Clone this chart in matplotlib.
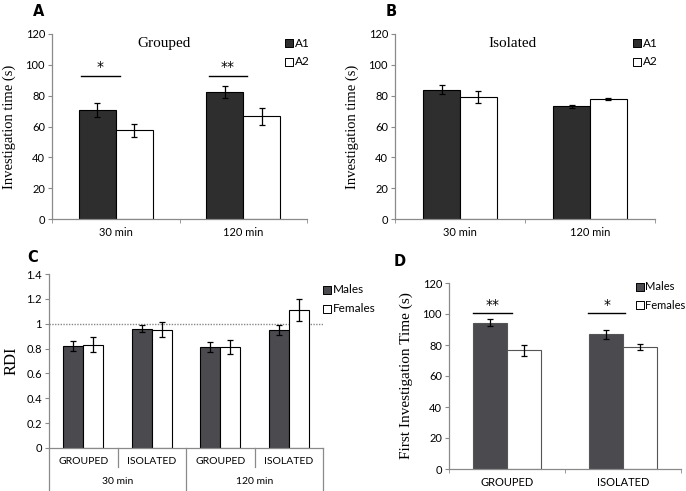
import matplotlib.pyplot as plt
import numpy as np

# panel A - grouped
times = ["30 min", "120 min"]
grp_a1 = [70.5, 82.5]
grp_a1_err = [4.5, 4.0]
grp_a2 = [57.5, 66.5]
grp_a2_err = [4.0, 5.5]

# panel B - isolated
iso_a1 = [84.0, 73.0]
iso_a1_err = [3.0, 1.0]
iso_a2 = [79.0, 78.0]
iso_a2_err = [4.0, 0.7]

# panel C - RDI
rdi_groups = ["GROUPED", "ISOLATED", "GROUPED", "ISOLATED"]
rdi_males = [0.82, 0.96, 0.81, 0.95]
rdi_males_err = [0.04, 0.03, 0.04, 0.04]
rdi_females = [0.83, 0.95, 0.81, 1.11]
rdi_females_err = [0.06, 0.06, 0.055, 0.09]

# panel D - first investigation time
housing = ["GROUPED", "ISOLATED"]
fit_males = [94.5, 87.0]
fit_males_err = [2.0, 3.0]
fit_females = [76.5, 78.5]
fit_females_err = [3.5, 2.0]

W, H = 686, 491
fig = plt.figure(figsize=(W / 100, H / 100), dpi=100)
sans = "Lato"
serif = "Liberation Serif"
dark1 = "#2e2e2e"
dark2 = "#4b4b4f"


def px_axes(left, right, top, bottom):
    return fig.add_axes([left / W, 1 - bottom / H, (right - left) / W, (bottom - top) / H])


def style(ax):
    for s in ["top", "right"]:
        ax.spines[s].set_visible(False)
    for s in ["left", "bottom"]:
        ax.spines[s].set_color("#8a8a8a")
        ax.spines[s].set_linewidth(0.9)
    ax.tick_params(axis="y", length=3, color="#8a8a8a", labelsize=8, pad=2)
    for t in ax.get_yticklabels():
        t.set_family(sans)


def bars(ax, v1, e1, v2, e2, off, w, c1, edge):
    x = np.arange(len(v1))
    ax.bar(x - off, v1, w, color=c1, edgecolor=edge, linewidth=0.8)
    ax.bar(x + off, v2, w, color="white", edgecolor=edge, linewidth=0.8)
    ax.errorbar(x - off, v1, yerr=e1, fmt="none", ecolor="black", elinewidth=0.9, capsize=2.5, capthick=0.9)
    ax.errorbar(x + off, v2, yerr=e2, fmt="none", ecolor="black", elinewidth=0.9, capsize=2.5, capthick=0.9)
    return x


def two_cat_xaxis(ax, labels):
    ax.set_xlim(-0.5, 1.5)
    ax.set_xticks([0, 1])
    ax.set_xticklabels(labels, family=sans, fontsize=8)
    ax.set_xticks([-0.5, 0.5, 1.5], minor=True)
    ax.tick_params(axis="x", which="major", length=0, pad=6)
    ax.tick_params(axis="x", which="minor", length=3, color="#8a8a8a")


def legend(ax, x, y, labels, c1, dy, gap=0.022, fs=8.5):
    for i, (lab, fc) in enumerate(zip(labels, [c1, "white"])):
        yy = y - i * dy
        ax.scatter([x], [yy], marker="s", s=26, facecolor=fc, edgecolor="black",
                   linewidth=0.7, transform=ax.transAxes, clip_on=False)
        ax.text(x + gap, yy, lab, transform=ax.transAxes, family=sans,
                fontsize=fs, va="center", ha="left")


def sig(ax, x0, x1, y, stars, dy):
    ax.plot([x0, x1], [y, y], color="black", lw=1)
    ax.text((x0 + x1) / 2, y + dy, stars, ha="center", va="bottom", fontsize=10,
            family="DejaVu Sans")


# ---- A
axA = px_axes(52, 307, 34, 219)
bars(axA, grp_a1, grp_a1_err, grp_a2, grp_a2_err, 0.145, 0.29, dark1, "black")
two_cat_xaxis(axA, times)
axA.set_ylim(0, 120)
axA.set_yticks(range(0, 121, 20))
style(axA)
axA.set_ylabel("Investigation time (s)", family=serif, fontsize=10.5, labelpad=7)
axA.text(0.44, 0.95, "Grouped", transform=axA.transAxes, family=serif, fontsize=11, ha="center", va="center")
legend(axA, 0.93, 0.95, ["A1", "A2"], dark1, 0.1)
sig(axA, -0.27, 0.03, 92.8, "*", 1.0)
sig(axA, 0.73, 1.03, 92.8, "**", 1.0)
fig.text(39 / W, 1 - 12 / H, "A", family="DejaVu Sans", fontweight="bold", fontsize=10.5, ha="center", va="center")

# ---- B
axB = px_axes(395, 655, 34, 219)
bars(axB, iso_a1, iso_a1_err, iso_a2, iso_a2_err, 0.14, 0.285, dark1, "black")
two_cat_xaxis(axB, times)
axB.set_ylim(0, 120)
axB.set_yticks(range(0, 121, 20))
style(axB)
axB.set_ylabel("Investigation time (s)", family=serif, fontsize=10.5, labelpad=7)
axB.text(0.45, 0.95, "Isolated", transform=axB.transAxes, family=serif, fontsize=11, ha="center", va="center")
legend(axB, 0.93, 0.95, ["A1", "A2"], dark1, 0.1)
fig.text(391 / W, 1 - 12 / H, "B", family="DejaVu Sans", fontweight="bold", fontsize=10.5, ha="center", va="center")

# ---- C
axC = px_axes(49, 323, 274, 448)
bars(axC, rdi_males, rdi_males_err, rdi_females, rdi_females_err, 0.145, 0.29, dark2, "black")
axC.set_xlim(-0.5, 3.5)
axC.set_ylim(0, 1.4)
axC.set_yticks(np.arange(0, 1.41, 0.2))
axC.set_yticklabels(["0", "0.2", "0.4", "0.6", "0.8", "1", "1.2", "1.4"])
axC.set_xticks([])
style(axC)
axC.axhline(1.0, color="#888888", lw=1, ls=(0, (1, 1)), zorder=0)
axC.set_ylabel("RDI", family=serif, fontsize=12, labelpad=5)
# multi-level category axis
tr = axC.get_xaxis_transform()
px = 1 / 174  # one pixel in axes-y units
for xb, depth in [(-0.5, 43), (0.5, 19), (1.5, 43), (2.5, 19), (3.5, 43)]:
    axC.plot([xb, xb], [0, -depth * px], color="#8a8a8a", lw=0.9, transform=tr, clip_on=False)
for i, lab in enumerate(rdi_groups):
    axC.text(i, -13 * px, lab, transform=tr, ha="center", va="center", family=sans, fontsize=7.5)
for xc, lab in [(0.5, "30 min"), (2.5, "120 min")]:
    axC.text(xc, -33 * px, lab, transform=tr, ha="center", va="center", family=sans, fontsize=7.5)
legend(axC, 1.015, 0.91, ["Males", "Females"], dark2, 0.11)
fig.text(33 / W, 1 - 257 / H, "C", family="DejaVu Sans", fontweight="bold", fontsize=10.5, ha="center", va="center")

# ---- D
axD = px_axes(449, 681, 283, 469)
bars(axD, fit_males, fit_males_err, fit_females, fit_females_err, 0.145, 0.29, dark2, "#555555")
two_cat_xaxis(axD, housing)
axD.set_ylim(0, 120)
axD.set_yticks(range(0, 121, 20))
style(axD)
axD.set_ylabel("First Investigation Time (s)", family=serif, fontsize=11, labelpad=7)
legend(axD, 0.825, 0.98, ["Males", "Females"], dark2, 0.1, gap=0.02, fs=8)
sig(axD, -0.29, 0.04, 100.6, "**", 1.0)
sig(axD, 0.70, 1.02, 100.6, "*", 1.0)
fig.text(400 / W, 1 - 261 / H, "D", family="DejaVu Sans", fontweight="bold", fontsize=10.5, ha="center", va="center")

fig.savefig("out.png", dpi=100)
